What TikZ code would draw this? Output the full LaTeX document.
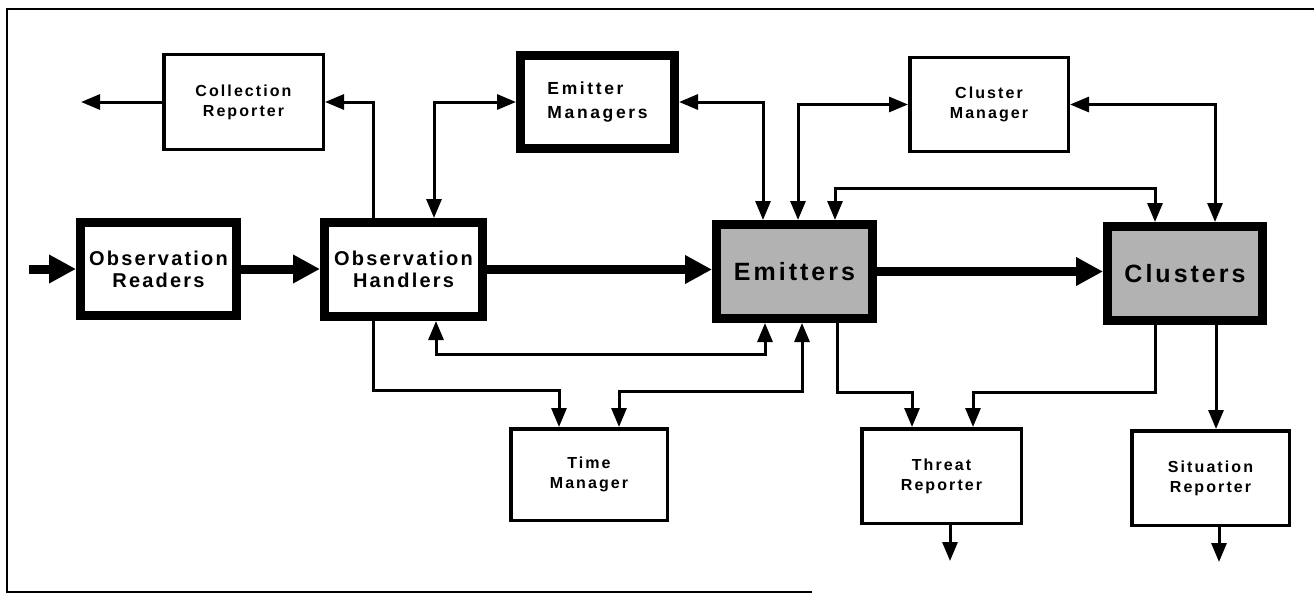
\documentclass[tikz,border=0pt]{standalone}
\usepackage{fontspec}
\usetikzlibrary{arrows.meta}
\newfontfamily\mainlbl[LetterSpace=11]{Liberation Sans}
\newfontfamily\smalllbl[LetterSpace=13]{Liberation Sans}
\newfontfamily\mgrlbl[LetterSpace=15]{Liberation Sans}
\newfontfamily\biglbl[LetterSpace=12]{Liberation Sans}
\tikzset{
  smalltri/.tip={Triangle[length=19pt,width=15pt]},
  bigtri/.tip={Triangle[length=27pt,width=27pt]},
  thinbox/.style={draw, line width=3.5, inner sep=0, align=center,
    font=\smalllbl\bfseries\fontsize{16}{20}\selectfont},
  thickbox/.style={draw, line width=9, inner sep=0, align=center,
    font=\mainlbl\bfseries\fontsize{20}{22}\selectfont},
  shadedbox/.style={thickbox, fill=black!30,
    font=\biglbl\bfseries\fontsize{25}{28}\selectfont},
  conn/.style={line width=3, -smalltri},
  bidir/.style={line width=3, smalltri-smalltri},
  flow/.style={line width=9, -bigtri},
  frame/.style={line width=2.5, line cap=square}
}
\begin{document}
\begin{tikzpicture}[x=1pt,y=-1pt]
\useasboundingbox (0,0) rectangle (1314,594);

% outer frame (open on the right)
\draw[frame] (1314,9) -- (7,9) -- (7,592) -- (812,592);

% upper row
\node[thinbox, minimum width=159.5, minimum height=94.5] (CR) at (243.5,102) {Collection\\Reporter};
\node[thickbox, align=left, minimum width=154, minimum height=93,
      font=\mgrlbl\bfseries\fontsize{17.5}{24}\selectfont] (EM) at (597.5,102) {Emitter\\Managers};
\node[thinbox, minimum width=158.5, minimum height=93.5] (CM) at (989,104.5) {Cluster\\Manager};

% middle row
\node[thickbox, minimum width=156, minimum height=93] (OR) at (158.5,269) {Observation\\Readers};
\node[thickbox, minimum width=158, minimum height=94] (OH) at (403.5,269.5) {Observation\\Handlers};
\node[shadedbox, minimum width=156, minimum height=94] (EMIT) at (794.5,271.5) {Emitters};
\node[shadedbox, minimum width=155, minimum height=94] (CLUS) at (1185,273.5) {Clusters};

% lower row
\node[thinbox, minimum width=156.5, minimum height=91.5] (TM) at (589,474.5) {Time\\Manager};
\node[thinbox, minimum width=159.5, minimum height=94.5] (TR) at (941.5,476) {Threat\\Reporter};
\node[thinbox, minimum width=157.5, minimum height=94.5] (SR) at (1210.5,478) {Situation\\Reporter};

% free ends
\coordinate (src) at (29,269);
\coordinate (crout) at (81,102);
\coordinate (trout) at (950,561);
\coordinate (srout) at (1219,562);

% main data flow
\draw[flow] (src) -- (OR.west);
\draw[flow] (OR.east) -- (OR.east -| OH.west);
\draw[flow] (OH.east) -- (OH.east -| EMIT.west);
\draw[flow] (EMIT.east) -- (EMIT.east -| CLUS.west);

% reporting and management links
\draw[conn] (CR.west) -- (crout);
\draw[conn] ([xshift=-30.5]OH.north) |- (CR.east);
\draw[bidir] ([xshift=30.5]OH.north) |- (EM.west);
\draw[bidir] (EM.east) -| ([xshift=-31.5]EMIT.north);
\draw[bidir] (CM.west) -| ([xshift=3.5]EMIT.north);
\draw[bidir] (CM.east) -| ([xshift=30]CLUS.north);
\draw[bidir] ([xshift=40.5]EMIT.north) -- ++(0,-32) -| ([xshift=-30]CLUS.north);
\draw[bidir] ([xshift=32.5]OH.south) -- ++(0,33) -| ([xshift=-29.5]EMIT.south);
\draw[conn] ([xshift=-30.5]OH.south) -- ++(0,69) -| ([xshift=-30]TM.north);
\draw[bidir] ([xshift=7.5]EMIT.south) -- ++(0,68) -| ([xshift=30]TM.north);
\draw[conn] ([xshift=42.5]EMIT.south) -- ++(0,69) -| ([xshift=-29.5]TR.north);
\draw[conn] ([xshift=-30]CLUS.south) -- ++(0,67) -| ([xshift=31.5]TR.north);
\draw[conn] ([xshift=31]CLUS.south) -- ([xshift=31]CLUS.south |- SR.north);
\draw[conn] ([xshift=8.5]TR.south) -- (trout);
\draw[conn] ([xshift=8.5]SR.south) -- (srout);
\end{tikzpicture}
\end{document}
